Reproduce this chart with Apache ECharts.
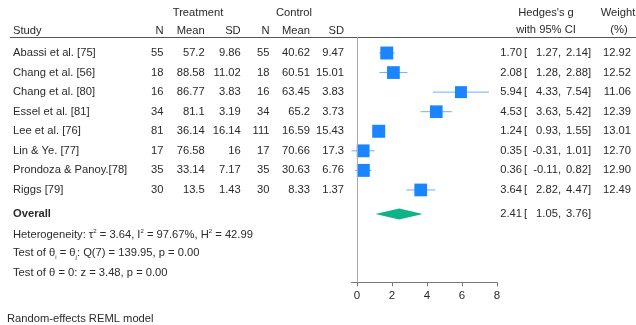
<!DOCTYPE html>
<html>
<head>
<meta charset="utf-8">
<script src="https://cdn.jsdelivr.net/npm/echarts@6/dist/echarts.min.js"></script>
<style>html,body{margin:0;padding:0;background:#fff}#c{width:636px;height:325px}</style>
</head>
<body>
<div id="c"></div>
<script>
const studies = ['Abassi et al. [75]', 'Chang et al. [56]', 'Chang et al. [80]', 'Essel et al. [81]', 'Lee et al. [76]', 'Lin & Ye. [77]', 'Prondoza & Panoy.[78]', 'Riggs [79]'];
const tN = [55, 18, 16, 34, 81, 17, 35, 30];
const tMean = [57.2, 88.58, 86.77, 81.1, 36.14, 76.58, 33.14, 13.5];
const tSD = [9.86, 11.02, 3.83, 3.19, 16.14, 16, 7.17, 1.43];
const cN = [55, 18, 16, 34, 111, 17, 35, 30];
const cMean = [40.62, 60.51, 63.45, 65.2, 16.59, 70.66, 30.63, 8.33];
const cSD = [9.47, 15.01, 3.83, 3.73, 15.43, 17.3, 6.76, 1.37];
const g = [1.70, 2.08, 5.94, 4.53, 1.24, 0.35, 0.36, 3.64];
const lo = [1.27, 1.28, 4.33, 3.63, 0.93, -0.31, -0.11, 2.82];
const hi = [2.14, 2.88, 7.54, 5.42, 1.55, 1.01, 0.82, 4.47];
const weight = [12.92, 12.52, 11.06, 12.39, 13.01, 12.70, 12.90, 12.49];
const overall = [2.41, 1.05, 3.76];
const rows = [0, 1, 2, 3, 4, 5, 6, 7];
const overallRow = 8.23;
const xTicks = [0, 2, 4, 6, 8];
const hetero = ['3.64', '97.67%', '42.99'];
const qTest = ['7', '139.95', '0.00'];
const zTest = ['3.48', '0.00'];

const FONT = '"Liberation Sans", Arial, sans-serif';
const FS = 11.2;
const TXT = '#2a2a2a';
const BLUE = '#1a85ff';
const CI = '#6aafff';
const GREEN = '#0db386';

const chart = echarts.init(document.getElementById('c'), null, {renderer: 'canvas'});

function t(text, x, y, align, bold) {
  return {
    type: 'text', x: x, y: y,
    style: {text: String(text), fill: TXT, font: (bold ? 'bold ' : '') + FS + 'px ' + FONT, textAlign: align || 'left', textVerticalAlign: 'middle'}
  };
}

function hedges(es, l, h, y) {
  return [
    t(es.toFixed(2), 522, y, 'right'),
    t('[', 524, y, 'left'),
    t(l.toFixed(2) + ',', 561, y, 'right'),
    t(h.toFixed(2) + ']', 591, y, 'right')
  ];
}

const tableData = rows.map(r => [0, r]);
const richBase = {fontSize: FS, fontFamily: FONT, color: TXT, lineHeight: 14, verticalAlign: 'middle'};

const option = {
  animation: false,
  grid: {left: 351.6, right: 139, top: 37, bottom: 42.7, containLabel: false},
  xAxis: {
    type: 'value', min: -0.31, max: 8,
    splitLine: {show: false},
    axisLine: {show: true, onZero: false, lineStyle: {color: '#777', width: 1}},
    axisTick: {show: true, length: 4, customValues: xTicks, lineStyle: {color: '#777'}},
    axisLabel: {customValues: xTicks, color: TXT, fontSize: 11.5, fontFamily: FONT, margin: 8}
  },
  yAxis: {type: 'value', inverse: true, min: -0.818, max: 11.72, show: false},
  graphic: [
    {type: 'line', shape: {x1: 10, y1: 37.5, x2: 636, y2: 37.5}, style: {stroke: '#555', lineWidth: 1}, silent: true},
    t('Treatment', 198, 13, 'center'),
    t('Control', 294, 13, 'center'),
    t('Study', 13, 31, 'left'),
    t('N', 163.5, 31, 'right'),
    t('Mean', 204.7, 31, 'right'),
    t('SD', 240.7, 31, 'right'),
    t('N', 269.5, 31, 'right'),
    t('Mean', 310, 31, 'right'),
    t('SD', 344, 31, 'right'),
    t("Hedges's g", 546, 13, 'center'),
    t('with 95% CI', 546, 30, 'center'),
    t('Weight', 618, 13, 'center'),
    t('(%)', 619, 30, 'center'),
    {type: 'text', x: 13, y: 235, style: {
      text: '{n|Heterogeneity: τ}{s|2}{n| = ' + hetero[0] + ', I}{s|2}{n| = ' + hetero[1] + ', H}{s|2}{n| = ' + hetero[2] + '}',
      textVerticalAlign: 'middle', font: FS + 'px ' + FONT, fill: TXT,
      rich: {n: richBase, s: {fontSize: 6, fontFamily: FONT, color: TXT, lineHeight: 14, verticalAlign: 'top'}}
    }},
    {type: 'text', x: 13, y: 253, style: {
      text: '{n|Test of θ}{b|i}{n| = θ}{b|j}{n|: Q(' + qTest[0] + ') = ' + qTest[1] + ', p = ' + qTest[2] + '}',
      textVerticalAlign: 'middle', font: FS + 'px ' + FONT, fill: TXT,
      rich: {n: richBase, b: {fontSize: 6, fontFamily: FONT, color: TXT, lineHeight: 14, verticalAlign: 'bottom'}}
    }},
    t('Test of θ = 0: z = ' + zTest[0] + ', p = ' + zTest[1], 13, 272.7, 'left'),
    t('Random-effects REML model', 7, 319, 'left')
  ],
  series: [
    {
      type: 'custom', name: 'table', coordinateSystem: 'cartesian2d', silent: true,
      data: tableData,
      renderItem: function (params, api) {
        const i = params.dataIndex;
        const y = api.coord([0, rows[i]])[1];
        return {type: 'group', children: [
          t(studies[i], 13, y, 'left'),
          t(tN[i], 163.5, y, 'right'),
          t(tMean[i], 204.7, y, 'right'),
          t(tSD[i], 240.7, y, 'right'),
          t(cN[i], 269.5, y, 'right'),
          t(cMean[i], 310, y, 'right'),
          t(cSD[i], 344, y, 'right'),
          t(weight[i].toFixed(2), 631, y, 'right')
        ].concat(hedges(g[i], lo[i], hi[i], y))};
      },
      markLine: {
        silent: true, symbol: 'none', label: {show: false},
        lineStyle: {color: '#aaa', width: 1, type: 'solid'},
        data: [{xAxis: 0}]
      }
    },
    {
      type: 'custom', name: 'ci', silent: true,
      data: rows.map(r => [lo[r], hi[r], r]),
      encode: {x: [0, 1], y: 2},
      renderItem: function (params, api) {
        const a = api.coord([api.value(0), api.value(2)]);
        const b = api.coord([api.value(1), api.value(2)]);
        return {type: 'line', shape: {x1: a[0], y1: a[1], x2: b[0], y2: b[1]}, style: {stroke: CI, lineWidth: 1}};
      }
    },
    {
      type: 'scatter', name: 'es', silent: true, symbol: 'rect',
      data: rows.map(r => [g[r], r, weight[r]]),
      symbolSize: function (v) { return 3.6 * Math.sqrt(v[2]); },
      itemStyle: {color: BLUE, opacity: 1}
    },
    {
      type: 'custom', name: 'overall', silent: true,
      data: [[overall[0], overall[1], overall[2], overallRow]],
      encode: {x: [0, 1, 2], y: 3},
      renderItem: function (params, api) {
        const row = api.value(3);
        const c = api.coord([api.value(0), row]);
        const l = api.coord([api.value(1), row]);
        const h = api.coord([api.value(2), row]);
        return {type: 'group', children: [
          {type: 'polygon', shape: {points: [[l[0], l[1]], [c[0], c[1] - 5.5], [h[0], h[1]], [c[0], c[1] + 5.5]]}, style: {fill: GREEN}},
          t('Overall', 13, c[1], 'left', true)
        ].concat(hedges(api.value(0), api.value(1), api.value(2), c[1]))};
      }
    }
  ]
};
chart.setOption(option);
</script>
</body>
</html>
